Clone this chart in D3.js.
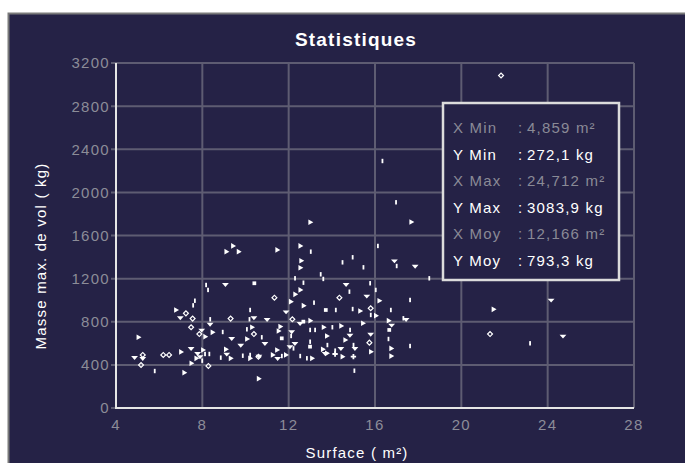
<!DOCTYPE html>
<html>
<head>
<meta charset="utf-8">
<script src="https://cdn.jsdelivr.net/npm/d3@7"></script>
<style>
  body { margin: 0; background: #ffffff; }
  text { font-family: "Liberation Sans", Arial, sans-serif; }
</style>
</head>
<body>
<div id="chart"></div>
<script>
// values (surface in m², masse in kg, marker shape)
var surface = [
  21.84, 17.67, 17.86, 18.51, 17.62, 24.16, 21.48, 17.44, 21.33, 24.71, 17.62, 23.18,
  16.34, 16.97, 12.99,
  9.41, 9.10, 9.67, 8.17, 8.26, 9.07, 10.41, 7.65, 7.57, 6.77, 7.24, 6.98, 7.55, 7.48,
  8.36, 8.36, 9.31, 7.97, 7.86, 8.12, 8.46, 8.94, 9.36, 5.03, 10.21, 10.39, 10.18,
  10.29, 10.39, 10.06, 10.06, 9.78, 7.48, 7.00, 9.08, 9.13, 9.30, 8.85, 7.78, 8.02,
  8.12, 7.71, 7.89, 7.99, 8.32, 8.28, 7.48, 6.19, 6.46, 5.24, 5.24, 5.16, 4.86, 5.79,
  7.15, 9.87, 10.20, 10.21, 10.60, 10.60,
  11.46, 12.53, 13.02, 16.13, 14.96, 14.49, 15.46, 16.90, 17.00, 12.57, 12.53, 13.48,
  13.60, 12.29, 12.68, 14.66, 15.77, 14.81, 16.03, 16.19, 12.53, 12.29, 11.34, 14.35,
  15.62, 12.09, 13.17, 12.68, 13.72, 14.18, 14.96, 15.30, 15.80, 16.73, 15.80, 16.03,
  11.88, 11.00, 12.17, 12.68, 12.99, 12.53, 14.42, 13.61, 14.02, 12.99, 13.22, 14.84,
  14.84, 15.43, 16.62, 16.77, 16.66, 11.60, 11.52, 11.68, 12.14, 12.11, 10.75, 10.90,
  13.76, 14.61, 15.80, 15.74, 16.62, 12.99, 12.99, 12.06, 12.22, 12.29, 13.79, 15.00,
  15.07, 14.42, 16.74, 15.80, 13.57, 13.69, 13.76, 14.15, 14.15, 15.00, 16.74, 14.48,
  12.53, 12.84, 13.07, 11.45, 11.25, 11.49, 11.68, 11.86, 10.62, 15.04, 17.31
];
var masse = [
  3084, 1725, 1317, 1203, 1002, 1002, 915, 823, 686, 668, 575, 600,
  2291, 1908, 1723,
  1503, 1450, 1450, 1141, 1095, 1147, 1157, 995, 952, 909, 878, 838, 829, 749,
  823, 779, 829, 724, 686, 662, 702, 705, 646, 656, 909, 838, 823,
  749, 686, 730, 640, 584, 554, 520, 544, 501, 461, 467, 507, 538,
  501, 461, 476, 439, 501, 390, 415, 492, 492, 492, 461, 399, 470, 343,
  328, 485, 461, 492, 476, 272,
  1466, 1503, 1450, 1503, 1398, 1351, 1305, 1366, 1317, 1366, 1301, 1240,
  1197, 1203, 1162, 1147, 1157, 1079, 1095, 995, 1095, 1054, 1023, 1023,
  1039, 986, 977, 949, 909, 909, 918, 900, 925, 909, 863, 856,
  893, 823, 823, 801, 810, 786, 761, 749, 749, 724, 724, 724,
  677, 786, 810, 770, 724, 755, 714, 646, 708, 668, 656, 600,
  668, 631, 686, 606, 640, 615, 569, 569, 553, 600, 584, 584,
  553, 553, 553, 522, 544, 507, 507, 532, 501, 476, 482, 476,
  482, 461, 461, 538, 492, 461, 482, 492, 482, 346, 832
];
// r = right triangle, d = down triangle, o = diamond, t = tick, s = square, x = cross
var forme = (
  "ordtt drdo dtt" +
  "ttr" +
  "rrrttdsttrodoo" +
  "tdodorrtdrtdt" +
  "rotrddrrdrtd" +
  "rtrdttorooodod" +
  "trtrt" +
  "orrrtttttdtr" +
  "rttttdtttrrro" +
  "odrtrsttrott" +
  "rddosrdrrttt" +
  "tdrrdsrrsdtt" +
  "drrdottsdtdt" +
  "tddrrrdrtxxr" +
  "rttrrrdtrdt"
).replace(/ /g, "");

var xTicks = [4, 8, 12, 16, 20, 24, 28];
var yTicks = [0, 400, 800, 1200, 1600, 2000, 2400, 2800, 3200];

var statLabels = ["X Min", "Y Min", "X Max", "Y Max", "X Moy", "Y Moy"];
var statValues = ["4,859 m²", "272,1 kg", "24,712 m²", "3083,9 kg", "12,166 m²", "793,3 kg"];

var width = 685, height = 463;
var bg = "#252246";

var svg = d3.select("#chart").append("svg")
    .attr("width", width)
    .attr("height", height);

// panel
svg.append("rect")
    .attr("x", 8.5).attr("y", 13.5)
    .attr("width", width).attr("height", height)
    .attr("fill", bg)
    .attr("stroke", "#7a7a7a")
    .attr("stroke-width", 2);

svg.append("text")
    .attr("x", 356).attr("y", 46)
    .attr("text-anchor", "middle")
    .attr("fill", "#ffffff")
    .style("font-size", "19px")
    .style("font-weight", "bold")
    .style("letter-spacing", "1.2px")
    .text("Statistiques");

var x = d3.scaleLinear().domain([4, 28]).range([116, 634]);
var y = d3.scaleLinear().domain([0, 3200]).range([408, 63]);

// grid
var grid = svg.append("g").attr("stroke", "#5e5c72").attr("stroke-width", 2);
grid.selectAll(".gx").data(xTicks).enter().append("line")
    .attr("x1", d => x(d)).attr("x2", d => x(d))
    .attr("y1", y(3200)).attr("y2", y(0));
grid.selectAll(".gy").data(yTicks).enter().append("line")
    .attr("x1", x(4) - 5).attr("x2", x(28))
    .attr("y1", d => y(d)).attr("y2", d => y(d));

// axes lines (left and bottom)
svg.append("path")
    .attr("d", "M" + x(4) + "," + y(3200) + "V" + y(0) + "H" + x(28))
    .attr("fill", "none")
    .attr("stroke", "#e6e6e6")
    .attr("stroke-width", 2);

var tickStyle = function(sel) {
  sel.attr("fill", "#8c8c98")
     .style("font-size", "15px")
     .style("letter-spacing", "1.3px");
};

svg.append("g").selectAll("text").data(yTicks).enter().append("text")
    .attr("x", 110).attr("y", d => y(d))
    .attr("dy", "0.36em")
    .attr("text-anchor", "end")
    .call(tickStyle)
    .text(d => d);

svg.append("g").selectAll("text").data(xTicks).enter().append("text")
    .attr("x", d => x(d)).attr("y", 430)
    .attr("text-anchor", "middle")
    .call(tickStyle)
    .text(d => d);

// axis titles
svg.append("text")
    .attr("x", 357).attr("y", 458)
    .attr("text-anchor", "middle")
    .attr("fill", "#ffffff")
    .style("font-size", "15px")
    .style("letter-spacing", "1.2px")
    .text("Surface ( m²)");

svg.append("text")
    .attr("transform", "translate(46,256) rotate(-90)")
    .attr("text-anchor", "middle")
    .attr("fill", "#ffffff")
    .style("font-size", "15px")
    .style("letter-spacing", "1.2px")
    .text("Masse max. de vol ( kg)");

// points
var points = surface.map(function(d, i) {
  return { sx: d, my: masse[i], f: forme[i] };
});

var triangle = d3.symbol().type(d3.symbolTriangle).size(14);
var diamond = d3.symbol().type(d3.symbolSquare).size(12);
var square = d3.symbol().type(d3.symbolSquare).size(14);
var cross = d3.symbol().type(d3.symbolCross).size(16);

var pts = svg.append("g").selectAll("g").data(points).enter().append("g")
    .attr("transform", d => "translate(" + x(d.sx) + "," + y(d.my) + ")");

pts.each(function(d) {
  var g = d3.select(this);
  if (d.f === "r") {
    g.append("path").attr("d", triangle()).attr("transform", "rotate(90)").attr("fill", "#fff");
  } else if (d.f === "d") {
    g.append("path").attr("d", triangle()).attr("transform", "rotate(180) scale(1.2,0.8)").attr("fill", "#fff");
  } else if (d.f === "o") {
    g.append("path").attr("d", diamond()).attr("transform", "rotate(45)")
      .attr("fill", "none").attr("stroke", "#fff").attr("stroke-width", 1.2);
  } else if (d.f === "s") {
    g.append("path").attr("d", square()).attr("fill", "#fff");
  } else if (d.f === "x") {
    g.append("path").attr("d", cross()).attr("fill", "#fff");
  } else {
    g.append("rect").attr("x", -0.8).attr("y", -2.2).attr("width", 1.8).attr("height", 4.4).attr("fill", "#fff");
  }
});

// statistics box
var box = svg.append("g").attr("transform", "translate(443,103)");
box.append("rect")
    .attr("width", 176).attr("height", 177)
    .attr("fill", bg)
    .attr("stroke", "#dcdcdc")
    .attr("stroke-width", 2.5);

var rowY = d3.scaleLinear().domain([0, 5]).range([30, 163]);
var rows = box.selectAll(".row").data(statLabels).enter().append("g")
    .attr("transform", (d, i) => "translate(0," + rowY(i) + ")")
    .attr("fill", (d, i) => i % 2 === 0 ? "#8a8a96" : "#ffffff")
    .style("font-size", "15px")
    .style("letter-spacing", "1.2px");
rows.append("text").attr("x", 10).text(d => d);
rows.append("text").attr("x", 75).text(":");
rows.append("text").attr("x", 84).text((d, i) => statValues[i]);
</script>
</body>
</html>
